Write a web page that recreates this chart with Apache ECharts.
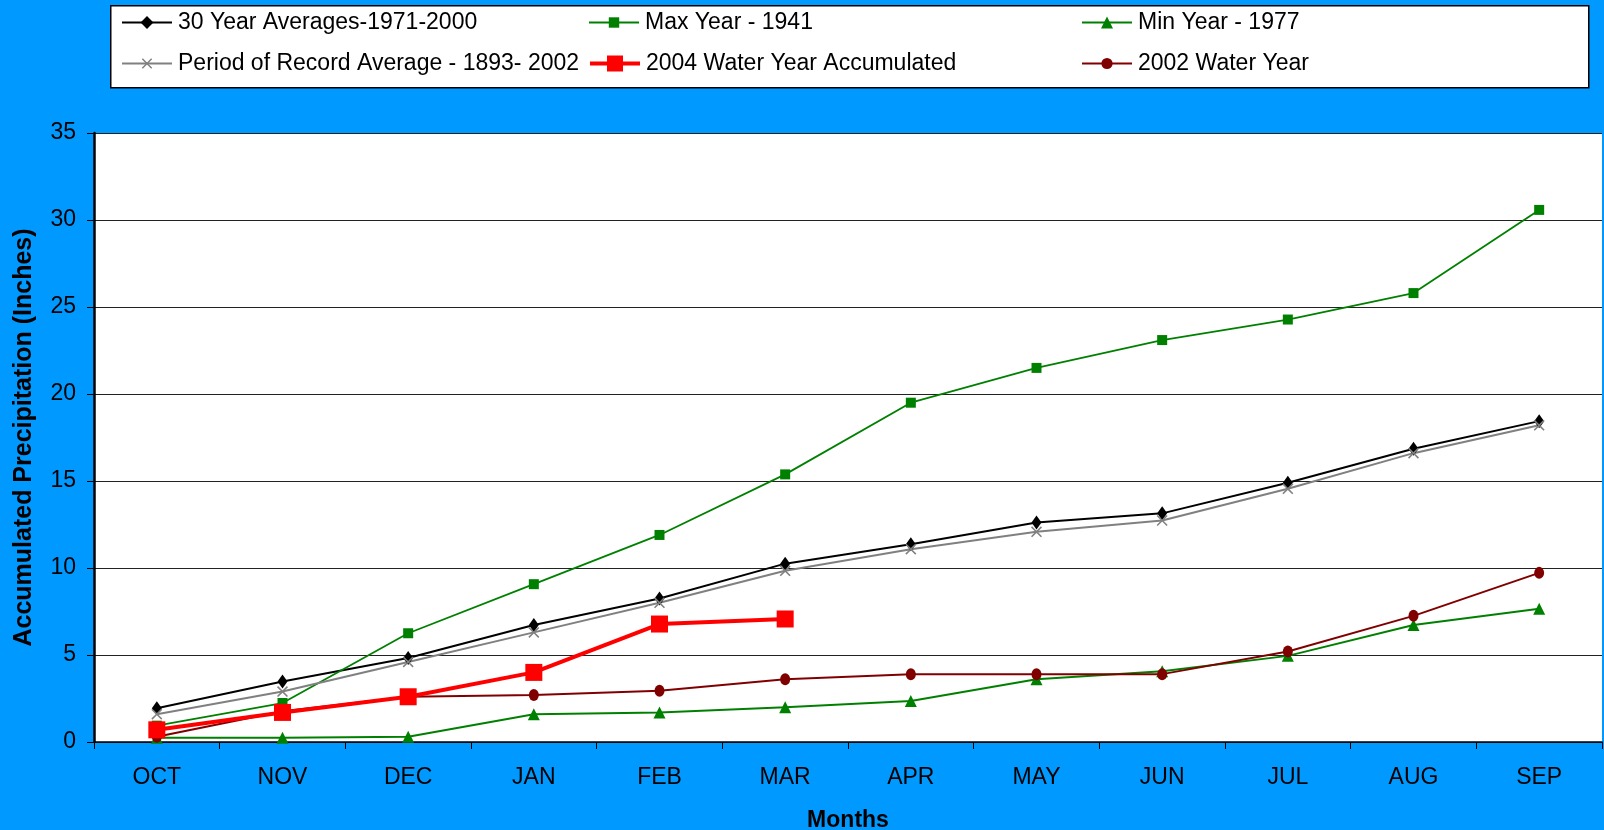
<!DOCTYPE html>
<html><head><meta charset="utf-8">
<script src="https://cdn.jsdelivr.net/npm/echarts@6/dist/echarts.min.js"></script>
<style>html,body{margin:0;padding:0;background:#0099ff}#c{width:1604px;height:830px}</style>
</head><body><div id="c"></div>
<script>
const months = ['OCT','NOV','DEC','JAN','FEB','MAR','APR','MAY','JUN','JUL','AUG','SEP'];
const yTicks = [0,5,10,15,20,25,30,35];
const avg30 = [1.94,3.48,4.83,6.72,8.25,10.25,11.37,12.61,13.14,14.9,16.85,18.44];
const maxYear = [0.94,2.24,6.25,9.07,11.9,15.38,19.5,21.5,23.1,24.28,25.8,30.58];
const minYear = [0.24,0.24,0.3,1.6,1.7,2.0,2.36,3.6,4.07,4.95,6.72,7.66];
const porAvg = [1.6,2.9,4.6,6.3,8.0,9.84,11.08,12.08,12.73,14.55,16.6,18.2];
const wy2004 = [0.7,1.7,2.6,4.0,6.78,7.07];
const wy2002 = [0.3,1.77,2.6,2.7,2.95,3.6,3.9,3.9,3.9,5.2,7.25,9.72];
const names = ['30 Year Averages-1971-2000','Max Year - 1941','Min Year - 1977',
  'Period of Record Average - 1893- 2002','2004 Water Year Accumulated','2002 Water Year'];

const FONT = 'Liberation Sans, Arial, sans-serif';
const xPath = 'path://M0,1L1,0L5,4L9,0L10,1L6,5L10,9L9,10L5,6L1,10L0,9L4,5Z';
const chart = echarts.init(document.getElementById('c'));

const legendPos = [[121,11],[588,11],[1081,11],[121,52],[588,52],[1081,52]];
const legendH = [16,13,15,13,20,14];
const legendW = [2,2,2,2,4,2];
const legends = names.map((n,i)=>({
  data:[n], left:legendPos[i][0], top:legendPos[i][1], itemWidth:50, itemHeight:legendH[i],
  padding:0, selectedMode:false, lineStyle:{width:legendW[i]},
  textStyle:{fontFamily:FONT, fontSize:23, color:'#000', padding:[0,0,0,1]}
}));

function ser(name, data, color, symbol, size, width){
  return {name, type:'line', data, symbol, symbolSize:size, showSymbol:true,
    lineStyle:{color, width}, itemStyle:{color}, emphasis:{disabled:true}, z: 3};
}

chart.setOption({
  backgroundColor:'#0099ff',
  animation:false,
  legend: legends,
  graphic:[{type:'rect', left:110, top:5, shape:{width:1478, height:82},
    style:{fill:'#fff', stroke:'#000', lineWidth:1.5}, z:-1}],
  grid:{left:94, right:2, top:133, bottom:88, show:true, backgroundColor:'#fff', borderWidth:0,
    outerBoundsMode:'none', containLabel:false},
  xAxis:{type:'category', data:months, boundaryGap:true,
    axisLine:{lineStyle:{color:'#000', width:1.5}},
    axisTick:{show:true, length:7, inside:false, lineStyle:{color:'#000'}},
    axisLabel:{fontFamily:FONT, fontSize:23, color:'#000', margin:24},
    name:'Months', nameLocation:'middle', nameGap:67,
    nameTextStyle:{fontFamily:FONT, fontSize:23, fontWeight:'bold', color:'#000'}},
  yAxis:{type:'value', min:0, max:35, interval:5,
    axisLine:{show:true, lineStyle:{color:'#000', width:2.5}},
    axisTick:{show:true, length:7, lineStyle:{color:'#000'}},
    axisLabel:{fontFamily:FONT, fontSize:23, color:'#000', margin:18},
    splitLine:{show:true, lineStyle:{color:'#222', width:1}},
    name:'Accumulated Precipitation (Inches)', nameLocation:'middle', nameGap:57, nameRotate:90,
    nameTextStyle:{fontFamily:FONT, fontSize:25, fontWeight:'bold', color:'#000'}},
  series:[
    ser(names[0], avg30, '#000000', 'diamond', [10,14], 2),
    ser(names[1], maxYear, '#008000', 'rect', 10, 1.8),
    ser(names[2], minYear, '#008000', 'triangle', 12, 2),
    ser(names[3], porAvg, '#808080', xPath, 11, 2),
    Object.assign(ser(names[4], wy2004, '#ff0000', 'rect', 17, 4), {z:4}),
    ser(names[5], wy2002, '#800000', 'circle', [10,12], 2)
  ]
});
</script></body></html>
